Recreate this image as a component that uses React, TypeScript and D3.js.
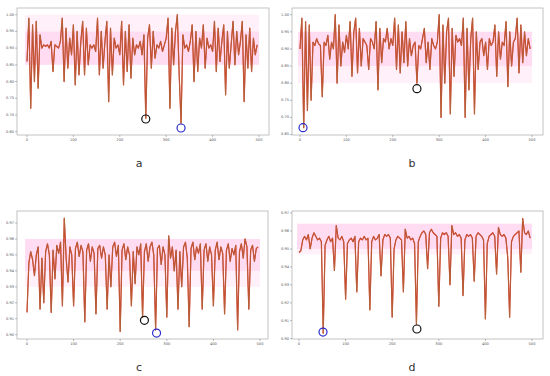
import React from "react";
import * as d3 from "d3";

const xStep = 4;
const seriesA = [
  0.86, 0.99, 0.72, 0.97, 0.80, 0.98, 0.78, 0.94,
  0.90, 0.91, 0.905, 0.91, 0.90,
  0.92, 0.83, 0.91,
  0.905, 0.90, 0.92,
  0.99, 0.80, 0.96, 0.84,
  0.93, 0.88,
  0.97, 0.79, 0.95, 0.82, 0.92,
  0.98, 0.82, 0.96, 0.85, 0.91,
  0.90, 0.91, 0.89,
  0.99, 0.82, 0.95, 0.84, 0.92,
  0.98, 0.74, 0.96, 0.82, 0.93,
  0.90, 0.91, 0.88,
  0.98, 0.79, 0.95, 0.83, 0.97,
  0.81, 0.93, 0.88, 0.91,
  0.90, 0.92, 0.88, 0.94,
  0.69, 0.93,
  0.97, 0.84, 0.95, 0.87,
  0.91, 0.90, 0.92, 0.89, 0.91, 0.93,
  0.99, 0.72, 0.96, 0.85,
  0.95, 1.00, 0.82, 0.675,
  0.94, 0.90, 0.91, 0.89, 0.92,
  0.97, 0.80, 0.95, 0.83, 0.93,
  0.90, 0.97, 0.84,
  0.93, 0.90, 0.91, 0.89,
  0.98, 0.83, 0.96, 0.86, 0.92,
  0.97, 0.76, 0.95, 0.84, 0.91,
  0.98, 0.85, 0.95, 0.88, 0.92,
  0.98, 0.74, 0.94, 0.84,
  0.96, 0.83, 0.93, 0.88, 0.91,
];
const seriesB = [
  0.90, 0.99, 0.67, 0.98, 0.72, 0.97, 0.75,
  0.92, 0.91, 0.93, 0.915, 0.91,
  0.76,
  0.92, 0.91, 0.94, 0.87, 0.92, 0.90,
  1.00, 0.80, 0.97,
  0.85, 0.92, 0.89, 0.94, 0.90,
  0.98, 0.82, 0.95,
  0.99, 0.83, 0.96, 0.85, 0.93,
  0.92, 0.91, 0.84, 0.93, 0.92,
  0.90, 0.98, 0.78, 0.96, 0.86,
  0.93, 0.92, 0.96, 0.90, 0.93, 0.91,
  0.99, 0.84, 0.97, 0.83, 0.95, 0.86, 0.98, 0.85, 0.93, 0.88,
  0.91, 0.92, 0.80, 0.91, 0.90,
  0.93, 0.96, 0.86, 0.92, 0.84, 0.93, 0.91, 0.90, 0.92,
  1.00, 0.70, 0.97, 0.80, 0.95,
  0.99, 0.71, 0.96, 0.82, 0.94,
  0.92, 0.93, 0.91,
  0.99, 0.70, 0.96, 0.78,
  0.93, 0.99, 0.71, 0.95, 0.84,
  0.92, 0.93, 0.88, 0.92, 0.84, 0.93, 0.91, 0.92,
  0.97, 0.82, 0.95, 0.87, 0.92,
  0.91, 0.98, 0.79, 0.95, 0.85, 0.92,
  0.93, 0.99, 0.83, 0.97, 0.86,
  0.95, 0.88, 0.93, 0.90,
];
const seriesC = [
  0.914, 0.945, 0.952, 0.947, 0.937, 0.950, 0.955, 0.916, 0.948, 0.920,
  0.952, 0.957, 0.950, 0.914, 0.953, 0.935, 0.956, 0.951, 0.958, 0.918,
  0.973, 0.948, 0.933, 0.955, 0.950, 0.918, 0.954, 0.958, 0.949, 0.956,
  0.952, 0.908, 0.953, 0.957, 0.946, 0.955, 0.951, 0.913, 0.954, 0.956,
  0.948, 0.955, 0.950, 0.916, 0.950, 0.930, 0.955, 0.958, 0.949, 0.956,
  0.902, 0.953, 0.957, 0.947, 0.955, 0.950, 0.918, 0.952, 0.932, 0.955,
  0.950, 0.957, 0.911, 0.952, 0.957, 0.946, 0.955, 0.958, 0.950, 0.903,
  0.954, 0.956, 0.944, 0.955, 0.950, 0.911, 0.962, 0.948, 0.955, 0.940,
  0.953, 0.916, 0.952, 0.930, 0.955, 0.958, 0.948, 0.905, 0.954, 0.958,
  0.947, 0.955, 0.951, 0.957, 0.916, 0.953, 0.957, 0.946, 0.955, 0.950,
  0.918, 0.953, 0.958, 0.947, 0.955, 0.951, 0.913, 0.953, 0.957, 0.946,
  0.954, 0.950, 0.956, 0.903, 0.952, 0.957, 0.948, 0.960, 0.955, 0.916,
  0.953, 0.956, 0.946, 0.954, 0.955,
];
const seriesD = [
  0.948, 0.949, 0.955, 0.957, 0.955, 0.958, 0.950, 0.956, 0.959, 0.957,
  0.955, 0.956, 0.954, 0.903, 0.952, 0.955, 0.957, 0.954, 0.956, 0.938,
  0.963, 0.956, 0.955, 0.957, 0.954, 0.922, 0.953, 0.955, 0.956, 0.954,
  0.957, 0.926, 0.954, 0.956, 0.955, 0.957, 0.955, 0.956, 0.916, 0.954,
  0.957, 0.955, 0.956, 0.958, 0.935, 0.955, 0.958, 0.957, 0.958, 0.956,
  0.912, 0.950, 0.955, 0.957, 0.956, 0.955, 0.926, 0.961, 0.956, 0.957,
  0.955, 0.956, 0.953, 0.908, 0.954, 0.957, 0.959, 0.960, 0.958, 0.939,
  0.959, 0.961, 0.959, 0.958, 0.957, 0.918, 0.956, 0.959, 0.958, 0.959,
  0.957, 0.930, 0.963, 0.958, 0.959, 0.957, 0.958, 0.956, 0.924, 0.955,
  0.958, 0.957, 0.958, 0.956, 0.932, 0.957, 0.959, 0.958, 0.957, 0.955,
  0.911, 0.953, 0.957, 0.958, 0.959, 0.957, 0.936, 0.962, 0.958, 0.957,
  0.958, 0.956, 0.945, 0.912, 0.954, 0.957, 0.958, 0.959, 0.960, 0.937,
  0.967, 0.959, 0.958, 0.960, 0.956,
];

const panelLabels = ["a", "b", "c", "d"];
const xTicks = [0, 100, 200, 300, 400, 500];
const yTicksAB = [0.65, 0.7, 0.75, 0.8, 0.85, 0.9, 0.95, 1.0];
const yTicksCD = [0.9, 0.91, 0.92, 0.93, 0.94, 0.95, 0.96, 0.97];

// annotated points: [x, y] for black and blue circles
const blackMarks: [number, number][] = [[256, 0.688], [252, 0.784], [252, 0.909], [253, 0.9054]];
const blueMarks: [number, number][] = [[332, 0.661], [6.5, 0.67], [278, 0.901], [51.5, 0.9037]];
// pale shaded bands [low, high]
const bands: [number, number][][] = [
  [[0.95, 1.0], [0.85, 0.95]],
  [[0.8, 0.95], [0.85, 0.95]],
  [[0.93, 0.96], [0.94, 0.96]],
  [[0.947, 0.964], [0.95, 0.964]],
];

const panels = [
  { data: seriesA, frame: [17, 8, 269, 135], xr: [27, 259], yd: [0.65, 1.0], yr: [131.7, 14.7], yTicks: yTicksAB, label: [139, 167] },
  { data: seriesB, frame: [292, 8, 543, 135], xr: [300, 532], yd: [0.65, 1.0], yr: [134.5, 14.7], yTicks: yTicksAB, label: [412, 167] },
  { data: seriesC, frame: [17, 211, 268, 339], xr: [27, 260], yd: [0.9, 0.97], yr: [334.7, 223], yTicks: yTicksCD, label: [139, 371] },
  { data: seriesD, frame: [292, 211, 543, 339], xr: [299, 532], yd: [0.9, 0.97], yr: [338.7, 213], yTicks: yTicksCD, label: [412, 371] },
];

function Panel({ p, i }: { p: (typeof panels)[number]; i: number }) {
  const [fx0, fy0, fx1, fy1] = p.frame;
  const x = d3.scaleLinear().domain([0, 500]).range(p.xr);
  const y = d3.scaleLinear().domain(p.yd).range(p.yr);
  const pts = p.data.map((v, k) => [k * xStep, v] as [number, number]);
  const line = d3.line<[number, number]>().x((d) => x(d[0])).y((d) => y(d[1]));
  const path = line(pts) || "";
  const fmt = d3.format(".2f");
  return (
    <g>
      {bands[i].map((b, k) => (
        <rect key={k} x={x(-4)} width={x(500) - x(-4)} y={y(b[1])} height={y(b[0]) - y(b[1])}
          fill={k === 0 ? "#fff0f9" : "#ffdcf1"} />
      ))}
      <rect x={fx0} y={fy0} width={fx1 - fx0} height={fy1 - fy0} fill="none" stroke="#b5b5b5" strokeWidth={0.8} />
      {p.yTicks.map((t) => (
        <g key={t}>
          <line x1={fx0 - 2} x2={fx0} y1={y(t)} y2={y(t)} stroke="#777" strokeWidth={0.5} />
          <text x={fx0 - 3} y={y(t)} fontSize={3.6} fill="#555" textAnchor="end" dominantBaseline="middle">{fmt(t)}</text>
        </g>
      ))}
      {xTicks.map((t) => (
        <g key={t}>
          <line x1={x(t)} x2={x(t)} y1={fy1} y2={fy1 + 2} stroke="#777" strokeWidth={0.5} />
          <text x={x(t)} y={fy1 + 6} fontSize={3.6} fill="#555" textAnchor="middle">{t}</text>
        </g>
      ))}
      <path d={path} fill="none" stroke="#e8261f" strokeWidth={1.2} strokeLinejoin="round" />
      <path d={path} fill="none" stroke="#a5703f" strokeWidth={0.9} strokeOpacity={0.85} strokeLinejoin="round" />
      <circle cx={x(blackMarks[i][0])} cy={y(blackMarks[i][1])} r={4} fill="none" stroke="#111" strokeWidth={1.2} />
      <circle cx={x(blueMarks[i][0])} cy={y(blueMarks[i][1])} r={4} fill="none" stroke="#2b2bcf" strokeWidth={1.2} />
      <text x={p.label[0]} y={p.label[1]} fontSize={11} fill="#333" textAnchor="middle" fontFamily="DejaVu Sans, sans-serif">
        {panelLabels[i]}
      </text>
    </g>
  );
}

export default function App() {
  return (
    <svg width={550} height={376} style={{ position: "absolute", left: 0, top: 0, background: "#fff" }}
      fontFamily="DejaVu Sans, sans-serif">
      {panels.map((p, i) => (
        <Panel key={i} p={p} i={i} />
      ))}
    </svg>
  );
}
